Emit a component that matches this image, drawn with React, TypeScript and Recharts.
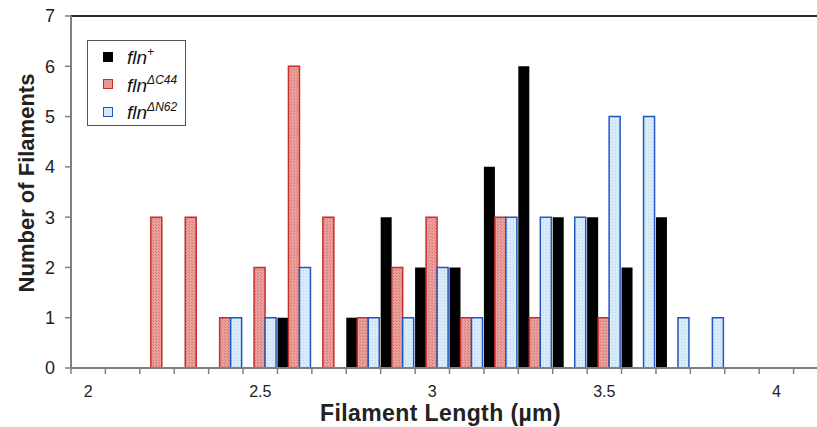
import React from 'react'
import {
  BarChart,
  Bar,
  XAxis,
  YAxis,
  Legend,
  Label,
  ReferenceLine,
} from 'recharts'

// bins of 0.1 µm, labelled at every half micron
const lengths = [
  '2', '2.1', '2.2', '2.3', '2.4', '2.5', '2.6', '2.7', '2.8', '2.9', '3',
  '3.1', '3.2', '3.3', '3.4', '3.5', '3.6', '3.7', '3.8', '3.9', '4', '4.1',
]
const tickLabels = ['2', '2.5', '3', '3.5', '4']
const yTicks = [0, 1, 2, 3, 4, 5, 6, 7]

const flnPlus = [0, 0, 0, 0, 0, 0, 1, 0, 1, 3, 2, 2, 4, 6, 3, 3, 2, 3, 0, 0, 0, 0]
const flnC44 = [0, 0, 3, 3, 1, 2, 6, 3, 1, 2, 3, 1, 3, 1, 0, 1, 0, 0, 0, 0, 0, 0]
const flnN62 = [0, 0, 0, 0, 1, 1, 2, 0, 1, 1, 2, 1, 3, 3, 3, 5, 5, 1, 1, 0, 0, 0]

const data = lengths.map((len, i) => ({
  len,
  plus: flnPlus[i],
  c44: flnC44[i],
  n62: flnN62[i],
}))

const FONT = '"Liberation Sans", Arial, Helvetica, sans-serif'
const AXIS = '#7f7f7f'
const RED = '#c62f2b'
const BLUE = '#2456c2'

const superscripts: Record<string, string> = {
  plus: '+',
  c44: 'ΔC44',
  n62: 'ΔN62',
}

function LengthTick(props: any) {
  const { x, y, payload, index } = props
  const half = payload?.offset ?? 17.2
  const isLast = index === lengths.length - 1
  return (
    <g>
      <line x1={x - half} x2={x - half} y1={y} y2={y + 6} stroke={AXIS} strokeWidth={1.5} />
      {isLast && (
        <line x1={x + half} x2={x + half} y1={y} y2={y + 6} stroke={AXIS} strokeWidth={1.5} />
      )}
      {tickLabels.includes(payload.value) && (
        <text
          x={x}
          y={y + 29}
          textAnchor="middle"
          fontFamily={FONT}
          fontSize={16}
          fill="#222"
        >
          {payload.value}
        </text>
      )}
    </g>
  )
}

function LegendBox(props: any) {
  const items = props.payload ?? []
  return (
    <div
      style={{
        width: 99,
        height: 86,
        border: '1.5px solid #555',
        background: '#fff',
        boxSizing: 'border-box',
        paddingTop: 2,
      }}
    >
      {items.map((it: any) => {
        const key = it.dataKey as string
        const swatch =
          key === 'plus'
            ? { background: '#000', border: '1px solid #000' }
            : key === 'c44'
              ? { background: '#e89893', border: `1.5px solid ${RED}` }
              : { background: '#d4e8f7', border: `1.5px solid ${BLUE}` }
        return (
          <div
            key={key}
            style={{ display: 'flex', alignItems: 'center', height: 27.5, paddingLeft: 15 }}
          >
            <span
              style={{ width: 10, height: 10, boxSizing: 'border-box', display: 'inline-block', ...swatch }}
            />
            <span
              style={{
                marginLeft: 14,
                fontFamily: FONT,
                fontStyle: 'italic',
                fontSize: 19,
                color: '#111',
                lineHeight: 1,
              }}
            >
              fln
              <sup style={{ fontSize: 12, verticalAlign: 8 }}>{superscripts[key]}</sup>
            </span>
          </div>
        )
      })}
    </div>
  )
}

export default function App() {
  return (
    <div
      style={{
        position: 'absolute',
        left: 0,
        top: 0,
        width: 817,
        height: 427,
        overflow: 'hidden',
        background: '#fff',
      }}
    >
      <BarChart
        width={835}
        height={427}
        data={data}
        margin={{ top: 16, right: 7, left: 0, bottom: 0 }}
        barCategoryGap={0}
        barGap={0}
      >
        <defs>
          <pattern id="redDots" width="3" height="3" patternUnits="userSpaceOnUse">
            <rect width="3" height="3" fill="#eaa19d" />
            <rect width="1" height="1" fill="#d8716c" />
            <rect x="2" y="2" width="1" height="1" fill="#dc7c77" />
          </pattern>
          <pattern id="blueDots" width="3" height="3" patternUnits="userSpaceOnUse">
            <rect width="3" height="3" fill="#d8ebf8" />
            <rect width="1" height="1" fill="#bcd7ef" />
          </pattern>
        </defs>

        <XAxis
          dataKey="len"
          interval={0}
          height={59}
          tickSize={0}
          tickMargin={0}
          tickLine={false}
          axisLine={{ stroke: AXIS, strokeWidth: 2 }}
          tick={<LengthTick />}
        >
          <Label
            content={(p: any) => {
              const vb = p.viewBox
              return (
                <text
                  x={vb.x + vb.width / 2 - 9}
                  y={vb.y + 53}
                  textAnchor="middle"
                  fontFamily={FONT}
                  fontWeight="bold"
                  fontSize={23}
                  letterSpacing={0.4}
                  fill="#222"
                >
                  Filament Length (µm)
                </text>
              )
            }}
          />
        </XAxis>

        <YAxis
          domain={[0, 7]}
          ticks={yTicks}
          width={71}
          tickSize={6}
          tickMargin={10}
          tickLine={{ stroke: AXIS, strokeWidth: 1.5 }}
          axisLine={{ stroke: AXIS, strokeWidth: 2 }}
          tick={{ fontFamily: FONT, fontSize: 18, fill: '#222' }}
        >
          <Label
            content={(p: any) => {
              const vb = p.viewBox
              const cy = vb.y + vb.height / 2 - 9
              return (
                <text
                  x={26}
                  y={cy}
                  transform={`rotate(-90, 26, ${cy})`}
                  textAnchor="middle"
                  dominantBaseline="central"
                  fontFamily={FONT}
                  fontWeight="bold"
                  fontSize={22}
                  fill="#222"
                >
                  Number of Filaments
                </text>
              )
            }}
          />
        </YAxis>

        <ReferenceLine y={7} stroke="#2a2a2a" strokeWidth={2} />

        <Legend
          layout="vertical"
          align="center"
          verticalAlign="middle"
          wrapperStyle={{ left: 87, top: 40, width: 99 }}
          content={<LegendBox />}
        />

        <Bar dataKey="plus" name="fln+" fill="#000" isAnimationActive={false} />
        <Bar
          dataKey="c44"
          name="flnΔC44"
          fill="url(#redDots)"
          stroke={RED}
          strokeWidth={1.5}
          isAnimationActive={false}
        />
        <Bar
          dataKey="n62"
          name="flnΔN62"
          fill="url(#blueDots)"
          stroke={BLUE}
          strokeWidth={1.5}
          isAnimationActive={false}
        />
      </BarChart>
    </div>
  )
}
